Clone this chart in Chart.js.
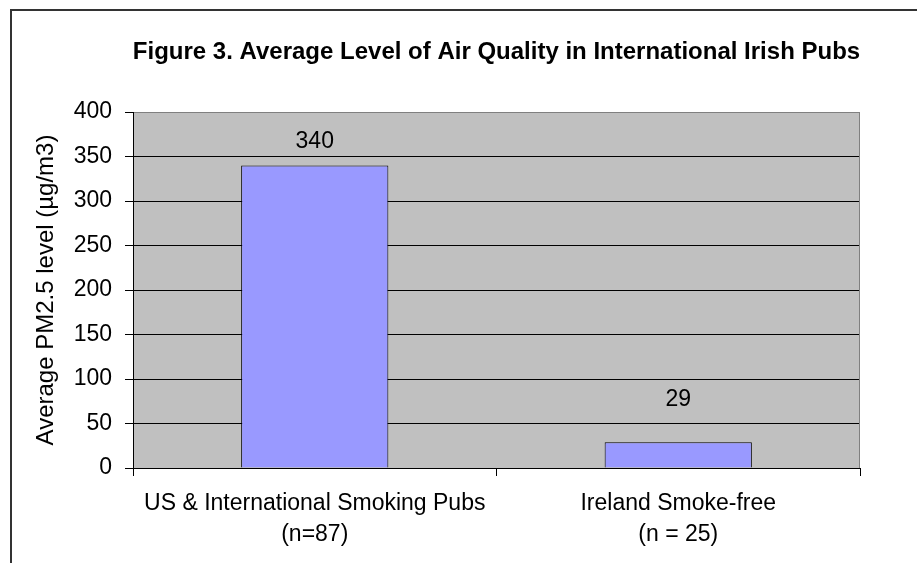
<!DOCTYPE html>
<html>
<head>
<meta charset="utf-8">
<script src="https://cdn.jsdelivr.net/npm/chart.js@4"></script>
<style>
  html, body { margin: 0; padding: 0; background: #fff; }
  #wrap { width: 917px; height: 563px; position: relative; }
</style>
</head>
<body>
<div id="wrap"><canvas id="chart" width="917" height="563"></canvas></div>
<script>
// Data
const categories = [
  ['US & International Smoking Pubs', '(n=87)'],
  ['Ireland Smoke-free', '(n = 25)']
];
const pmValues = [340, 29];
const yTicks = [0, 50, 100, 150, 200, 250, 300, 350, 400];

const FONT = 'Arial, "Liberation Sans", sans-serif';
const TITLE = 'Figure 3. Average Level of Air Quality in International Irish Pubs';
const labelOffsets = [24, 43]; // gap between bar top and its value label

// Gray plot background, plot border, title and outer frame
const backdrop = {
  id: 'backdrop',
  beforeDraw(chart) {
    const { ctx, chartArea: a } = chart;
    ctx.save();
    ctx.fillStyle = '#C0C0C0';
    ctx.fillRect(a.left, a.top, a.right - a.left, a.bottom - a.top);
    ctx.restore();
  },
  afterDraw(chart) {
    const { ctx, chartArea: a } = chart;
    ctx.save();
    ctx.strokeStyle = '#808080';
    ctx.lineWidth = 1;
    ctx.beginPath();
    ctx.moveTo(a.right - 0.5, a.top);
    ctx.lineTo(a.right - 0.5, a.bottom);
    ctx.stroke();

    // title, centred over the plot area
    ctx.font = 'bold 24px ' + FONT;
    ctx.fillStyle = '#000';
    ctx.textAlign = 'center';
    ctx.textBaseline = 'middle';
    ctx.fillText(TITLE, (a.left + a.right) / 2, 52);

    // outer frame
    ctx.strokeStyle = '#333';
    ctx.lineWidth = 2;
    ctx.beginPath();
    ctx.moveTo(11, 600);
    ctx.lineTo(11, 10);
    ctx.lineTo(930, 10);
    ctx.stroke();
    ctx.restore();
  }
};

// Value labels above bars
const valueLabels = {
  id: 'valueLabels',
  afterDatasetsDraw(chart) {
    const { ctx } = chart;
    const meta = chart.getDatasetMeta(0);
    ctx.save();
    ctx.font = '23px ' + FONT;
    ctx.fillStyle = '#000';
    ctx.textAlign = 'center';
    ctx.textBaseline = 'middle';
    meta.data.forEach((bar, i) => {
      ctx.fillText(String(pmValues[i]), bar.x, bar.y - labelOffsets[i]);
    });
    ctx.restore();
  }
};

new Chart(document.getElementById('chart'), {
  type: 'bar',
  data: {
    labels: categories,
    datasets: [{
      data: pmValues,
      backgroundColor: '#9999FF',
      borderColor: '#000',
      borderWidth: 1,
      barPercentage: 0.405,
      categoryPercentage: 1
    }]
  },
  options: {
    responsive: false,
    animation: false,
    layout: { padding: { left: 10, right: 57, top: 112, bottom: 0 } },
    plugins: {
      legend: { display: false },
      tooltip: { enabled: false },
      title: { display: false }
    },
    scales: {
      x: {
        grid: {
          offset: true,
          drawOnChartArea: false,
          tickLength: 8,
          tickColor: '#000'
        },
        border: { color: '#000', width: 1 },
        ticks: {
          color: '#000',
          padding: 12,
          maxRotation: 0,
          font: { family: FONT, size: 23, lineHeight: 1.36 }
        },
        afterFit(scale) { scale.height = 95; }
      },
      y: {
        min: 0,
        max: 400,
        afterBuildTicks(scale) { scale.ticks = yTicks.map(v => ({ value: v })); },
        grid: {
          color: ctx => (ctx.tick && ctx.tick.value === 400 ? '#808080' : '#000'),
          tickColor: '#000',
          tickLength: 8
        },
        border: { color: '#000', width: 1 },
        ticks: {
          color: '#000',
          padding: 13,
          font: { family: FONT, size: 23 }
        },
        title: {
          display: true,
          text: 'Average PM2.5 level (µg/m3)',
          color: '#000',
          font: { family: FONT, size: 24 },
          padding: { top: 22, bottom: 0 }
        },
        afterFit(scale) { scale.width = 123; }
      }
    }
  },
  plugins: [backdrop, valueLabels]
});
</script>
</body>
</html>
